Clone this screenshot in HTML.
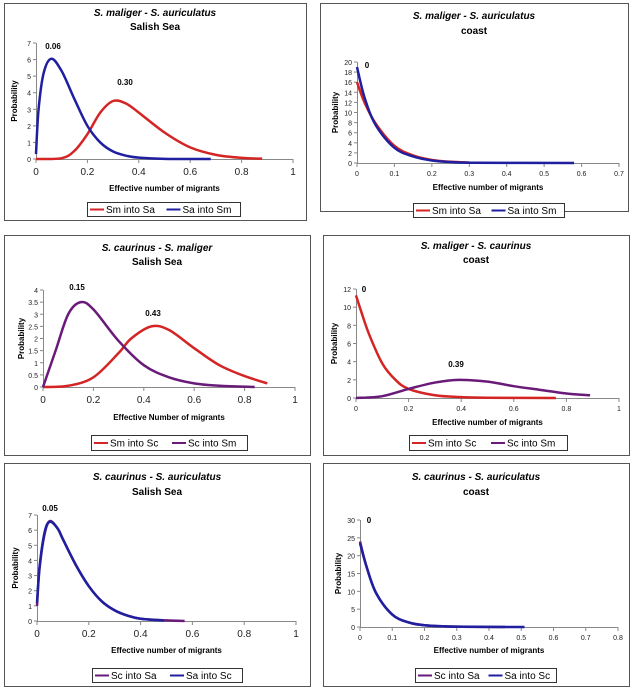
<!DOCTYPE html>
<html><head><meta charset="utf-8"><style>
body{margin:0;background:#fff;width:632px;height:688px;overflow:hidden}
svg{display:block;font-family:"Liberation Sans",Arial,sans-serif}
</style></head><body>
<svg id="fig" width="632" height="688"></svg>
<script>
// ---- data (x values, y values per series) ----
const p1RedX=[0,0.1,0.15,0.2,0.25,0.3,0.35,0.4,0.5,0.6,0.7,0.8,0.88];
const p1RedY=[0,0.05,0.5,1.5,2.8,3.5,3.35,2.8,1.6,0.7,0.25,0.07,0.02];
const p1BlueX=[0,0.01,0.03,0.06,0.1,0.15,0.2,0.25,0.3,0.35,0.4,0.5,0.68];
const p1BlueY=[0.3,3,5.2,6.05,5.3,3.6,2.0,1.0,0.45,0.2,0.08,0.01,0];
const p2RedX=[0,0.02,0.05,0.1,0.15,0.2,0.25,0.3];
const p2RedY=[16,12,7.8,3.4,1.5,0.6,0.25,0.1];
const p2BlueX=[0,0.02,0.05,0.1,0.15,0.2,0.25,0.31,0.58];
const p2BlueY=[19,13,7.5,3,1.3,0.5,0.2,0.05,0];
const p3RedX=[0,0.1,0.2,0.3,0.35,0.43,0.5,0.6,0.7,0.8,0.89];
const p3RedY=[0,0.05,0.4,1.4,2.0,2.5,2.35,1.6,0.9,0.45,0.15];
const p3PurX=[0,0.05,0.1,0.15,0.2,0.3,0.4,0.5,0.6,0.7,0.84];
const p3PurY=[0,1.5,3,3.5,3.2,1.9,0.9,0.4,0.15,0.05,0];
const p4RedX=[0,0.02,0.05,0.1,0.15,0.2,0.3,0.4,0.5,0.76];
const p4RedY=[11.3,9.5,7,3.8,2,1,0.3,0.1,0.03,0];
const p4PurX=[0,0.1,0.2,0.3,0.39,0.5,0.6,0.7,0.8,0.89];
const p4PurY=[0,0.2,1.0,1.7,2.0,1.8,1.3,0.9,0.5,0.3];
const p5PurX=[0,0.01,0.03,0.05,0.08,0.1,0.15,0.2,0.25,0.3,0.35,0.4,0.5,0.57];
const p5PurY=[1,3.5,5.8,6.6,6.1,5.4,3.7,2.3,1.3,0.7,0.35,0.15,0.04,0];
const p5BlueX=[0,0.01,0.03,0.05,0.08,0.1,0.15,0.2,0.25,0.3,0.35,0.4,0.49];
const p5BlueY=[1.2,3.6,5.9,6.55,6.1,5.4,3.7,2.3,1.3,0.7,0.35,0.15,0.03];
const p6PurX=[0,0.02,0.05,0.1,0.15,0.2,0.3,0.45];
const p6PurY=[24,17,9.5,3.5,1.3,0.5,0.1,0];
const p6BlueX=[0,0.02,0.05,0.1,0.15,0.2,0.3,0.51];
const p6BlueY=[23.5,17,9.5,3.5,1.3,0.5,0.1,0];

const RED="#d42424",BLUE="#1f1fa0",PUR="#6a1a78";
const NS="http://www.w3.org/2000/svg";
const svg=document.getElementById('fig');
function el(t,a,parent){const e=document.createElementNS(NS,t);for(const k in a)e.setAttribute(k,a[k]);(parent||svg).appendChild(e);return e;}
function txt(x,y,s,a,parent){const e=el('text',Object.assign({x:x,y:y},a),parent);e.textContent=s;return e;}
function smooth(pts){let d=`M${pts[0][0]},${pts[0][1]}`;for(let i=0;i<pts.length-1;i++){const p0=pts[i-1]||pts[i],p1=pts[i],p2=pts[i+1],p3=pts[i+2]||p2;
const c1x=p1[0]+(p2[0]-p0[0])/6,c1y=p1[1]+(p2[1]-p0[1])/6,c2x=p2[0]-(p3[0]-p1[0])/6,c2y=p2[1]-(p3[1]-p1[1])/6;
d+=` C${c1x},${c1y} ${c2x},${c2y} ${p2[0]},${p2[1]}`;}return d;}

const panels=[
 {name:'salish-sm-sa',box:[4,3,302,217],t1:'S. maliger  -  S. auriculatus',t2:'Salish Sea',ty:[16,30],x0:36,x1:293,y0:159,y1:43,xmax:1,xstep:0.2,ymax:7,ystep:1,xdec:1,ydec:0,xfs:10,xl:'Effective number of migrants',xly:191,
  series:[{n:'Sm into Sa',c:RED,x:p1RedX,y:p1RedY},{n:'Sa into Sm',c:BLUE,x:p1BlueX,y:p1BlueY}],leg:[87,202,153,14],ann:[[53,49,'0.06'],[125,85,'0.30']]},
 {name:'coast-sm-sa',box:[320,3,308,208],t1:'S. maliger  -  S. auriculatus',t2:'coast',ty:[19,34],x0:357,x1:619,y0:163,y1:62,xmax:0.7,xstep:0.1,ymax:20,ystep:2,xdec:1,ydec:0,xfs:7,xl:'Effective number of migrants',xly:190,
  series:[{n:'Sm into Sa',c:RED,x:p2RedX,y:p2RedY},{n:'Sa into Sm',c:BLUE,x:p2BlueX,y:p2BlueY}],leg:[413,203,151,14],ann:[[367,68,'0']]},
 {name:'salish-sc-sm',box:[4,235,306,220],t1:'S. caurinus - S. maliger',t2:'Salish Sea',ty:[251,265],x0:43,x1:295,y0:387,y1:290,xmax:1,xstep:0.2,ymax:4,ystep:0.5,xdec:1,ydec:1,xfs:10,xl:'Effective Number of migrants',xly:420,
  series:[{n:'Sm into Sc',c:RED,x:p3RedX,y:p3RedY},{n:'Sc into Sm',c:PUR,x:p3PurX,y:p3PurY}],leg:[91,435,156,15],ann:[[77,290,'0.15'],[153,316,'0.43']]},
 {name:'coast-sm-sc',box:[323,235,306,220],t1:'S. maliger  -  S. caurinus',t2:'coast',ty:[249,263],x0:356,x1:619,y0:398,y1:289,xmax:1,xstep:0.2,ymax:12,ystep:2,xdec:1,ydec:0,xfs:7,xl:'Effective number of migrants',xly:425,
  series:[{n:'Sm into Sc',c:RED,x:p4RedX,y:p4RedY},{n:'Sc into Sm',c:PUR,x:p4PurX,y:p4PurY}],leg:[409,435,158,15],ann:[[364,292,'0'],[456,367,'0.39']]},
 {name:'salish-sc-sa',box:[4,463,306,223],t1:'S. caurinus  -  S. auriculatus',t2:'Salish Sea',ty:[480,495],x0:37,x1:296,y0:621,y1:515,xmax:1,xstep:0.2,ymax:7,ystep:1,xdec:1,ydec:0,xfs:10,xl:'Effective number of migrants',xly:653,
  series:[{n:'Sc into Sa',c:PUR,x:p5PurX,y:p5PurY},{n:'Sa into Sc',c:BLUE,x:p5BlueX,y:p5BlueY}],leg:[92,668,150,14],ann:[[50,511,'0.05']]},
 {name:'coast-sc-sa',box:[323,463,306,223],t1:'S. caurinus - S. auriculatus',t2:'coast',ty:[480,495],x0:360,x1:618,y0:627,y1:520,xmax:0.8,xstep:0.1,ymax:30,ystep:5,xdec:1,ydec:0,xfs:7,xl:'Effective number of migrants',xly:653,
  series:[{n:'Sc into Sa',c:PUR,x:p6PurX,y:p6PurY},{n:'Sa into Sc',c:BLUE,x:p6BlueX,y:p6BlueY}],leg:[415,668,141,14],ann:[[369,523,'0']]}
];

panels.forEach(P=>{
 const g=el('g',{});
 
 
 const b=el('rect',{x:P.box[0]+0.5,y:P.box[1]+0.5,width:P.box[2],height:P.box[3],fill:'#fff',stroke:'#555','stroke-width':1},g);
 
 const cx=(P.x0+P.x1)/2, bx=P.box[0]+P.box[2]/2;
 const t1=txt(bx,P.ty[0],P.t1,{'font-size':10,'font-weight':'bold','font-style':'italic','text-anchor':'middle'},g);
 
 const t2=txt(bx,P.ty[1],P.t2,{'font-size':10,'font-weight':'bold','text-anchor':'middle'},g);
 
 const X=v=>P.x0+(P.x1-P.x0)*v/P.xmax, Y=v=>P.y0-(P.y0-P.y1)*v/P.ymax;
 const ax=el('line',{x1:P.x0,y1:P.y0+0.5,x2:P.x1,y2:P.y0+0.5,stroke:'#888'},g);
 
 const ay=el('line',{x1:P.x0+0.5,y1:P.y1,x2:P.x0+0.5,y2:P.y0,stroke:'#888'},g);
 
 const nx=Math.round(P.xmax/P.xstep);
 for(let i=0;i<=nx;i++){const v=i*P.xstep,x=X(v);
  el('line',{x1:x,y1:P.y0,x2:x,y2:P.y0+4,stroke:'#888'},g);
  const lab=(v===0||Math.abs(v-1)<1e-9)?String(Math.round(v)):v.toFixed(P.xdec);
  const t=txt(x,P.y0+(P.xfs>8?16:13),lab,{'font-size':P.xfs,'text-anchor':'middle',fill:'#222'},g);
  }
 const ny=Math.round(P.ymax/P.ystep);
 for(let i=0;i<=ny;i++){const v=i*P.ystep,y=Y(v);
  el('line',{x1:P.x0-3,y1:y,x2:P.x0,y2:y,stroke:'#888'},g);
  const lab=(Math.abs(v-Math.round(v))<1e-9)?String(Math.round(v)):v.toFixed(1);
  const t=txt(P.x0-5,y+3,lab,{'font-size':7,'text-anchor':'end',fill:'#222'},g);
  }
 const yl=txt(0,0,'Probability',{'font-size':8,'font-weight':'bold','text-anchor':'middle',transform:`translate(${P.x0-19},${(P.y0+P.y1)/2}) rotate(-90)`},g);
 
 const xl=txt(cx,P.xly,P.xl,{'font-size':8,'font-weight':'bold','text-anchor':'middle'},g);
 
 P.series.forEach((s,k)=>{
  const pts=s.x.map((v,i)=>[X(v),Y(s.y[i])]);
  const p=el('path',{d:smooth(pts),fill:'none',stroke:s.c,'stroke-width':2.5,'stroke-linejoin':'round'},g);
  
  
 });
 P.ann.forEach(a=>{const t=txt(a[0],a[1],a[2],{'font-size':8,'font-weight':'bold','text-anchor':'middle'},g);
  });
 const L=P.leg;
 const lg=el('g',{},g);
 
 el('rect',{x:L[0]+0.5,y:L[1]+0.5,width:L[2],height:L[3],fill:'#fff',stroke:'#333'},lg);
 const half=L[2]/2, my=L[1]+L[3]/2+0.5;
 P.series.forEach((s,k)=>{const sx=L[0]+3+k*half;
  const ln=el('line',{x1:sx,y1:my,x2:sx+14,y2:my,stroke:s.c,'stroke-width':2},lg);
  
  const t=txt(sx+16,my+3.5,s.n,{'font-size':10},lg);
  });
});
</script>
</body></html>
